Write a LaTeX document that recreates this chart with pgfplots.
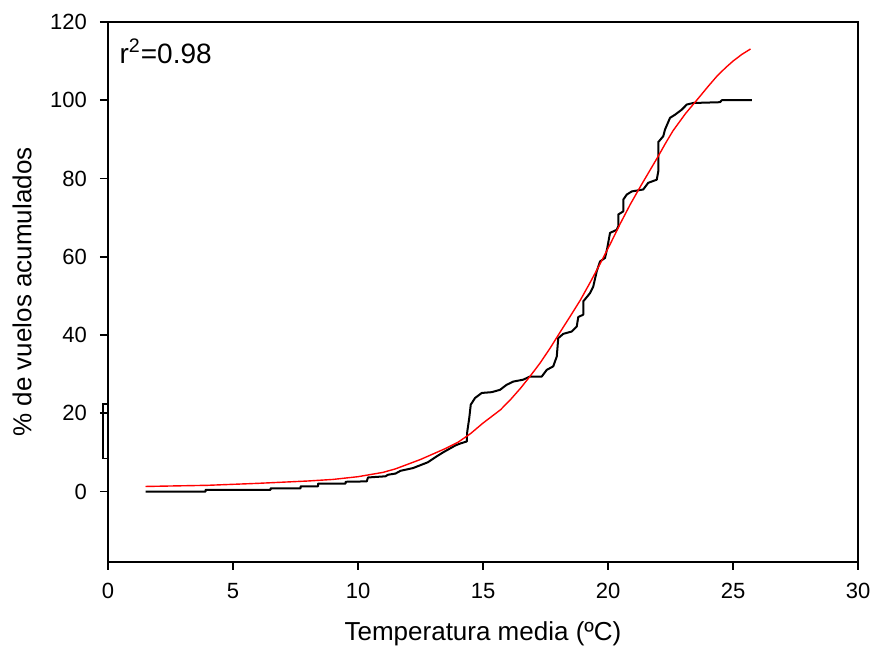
\documentclass[border=0pt]{standalone}
\usepackage{fontspec}
\setmainfont{Liberation Sans}
\usepackage{pgfplots}
\pgfplotsset{compat=1.18}
\begin{document}
\begin{tikzpicture}
\begin{axis}[
  name=ax,
  scale only axis,
  width=375pt, height=270pt,
  xmin=0, xmax=30, ymin=-18, ymax=120,
  xtick={0,5,...,30}, ytick={0,20,...,120},
  tick pos=left, tick align=outside,
  major tick length=4pt,
  axis line style={line width=0.8pt},
  every tick/.style={black, line width=0.8pt},
  /pgf/number format/assume math mode=true,
  tick label style={font=\fontsize{11}{13}\selectfont},
  xticklabel shift=3pt, yticklabel shift=3pt,
  label style={font=\fontsize{13}{15}\selectfont},
  xlabel={Temperatura media (ºC)},
  ylabel={\% de vuelos acumulados},
  xlabel style={at={(axis description cs:0.5,-0.1333)}, anchor=center},
  ylabel style={at={(axis description cs:-0.1147,0.5)}, anchor=center},
  clip=false,
]
% small rectangle at x=0
\addplot[black, line width=0.7pt] coordinates {(-0.2,8.4) (0,8.4) (0,22.4) (-0.2,22.4) (-0.2,8.4)};
% observed cumulative
\addplot[black, line width=1pt, line join=round] coordinates {
(1.5,0) (3.9,0) (3.9,0.4) (6.5,0.4) (6.5,0.8) (7.7,0.8) (7.7,1.3) (8.4,1.3) (8.4,2.0)
(9.5,2.0) (9.5,2.5) (10.35,2.6) (10.4,3.6) (11.1,3.9) (11.2,4.3) (11.5,4.6) (11.7,5.3)
(12.2,6.0) (12.6,7.0) (12.8,7.5) (13.1,8.8) (13.4,10.0) (13.9,11.8) (14.1,12.3) (14.35,12.8)
(14.37,15.3) (14.45,18.8) (14.51,22.2) (14.68,23.9) (14.95,25.2) (15.35,25.4) (15.68,26.0)
(15.95,27.3) (16.21,28.1) (16.61,28.6) (16.88,29.4) (17.35,29.4) (17.55,31.1) (17.81,32.0)
(17.95,34.5) (18.01,39.2) (18.21,40.3) (18.55,40.9) (18.75,42.2) (18.81,44.6) (19.01,45.2)
(19.01,48.6) (19.28,50.7) (19.41,52.4) (19.55,56.3) (19.68,58.8) (19.88,59.7) (19.97,62.2)
(20.08,66.1) (20.35,66.9) (20.41,67.8) (20.41,70.8) (20.61,71.6) (20.61,74.6) (20.75,75.9)
(20.95,76.7) (21.41,77.2) (21.61,78.9) (21.95,79.7) (22.01,81.8) (22.01,89.3) (22.21,90.8)
(22.28,92.5) (22.48,95.5) (22.68,96.3) (22.95,97.6) (23.15,98.9) (23.41,99.3) (24.48,99.5)
(24.55,100) (25.75,100)
};
% fitted curve
\addplot[red, line width=0.7pt] coordinates {
(1.5,1.3) (4,1.6) (6,2.1) (8,2.7) (9,3.1) (10,3.8) (11,4.9) (11.5,5.8) (12,7.0) (12.5,8.2) (13,9.6) (13.5,11.0) (14,12.6)
(14.5,14.8) (15,17.5) (15.7,20.9) (16.1,23.5) (16.5,26.4) (16.9,29.6) (17.3,33) (17.7,36.8) (18.1,40.9) (18.5,44.9) (18.9,49) (19.3,53.6) (19.7,58.4) (20.1,63.4) (20.5,68.6)
(20.9,73.5) (21.3,78) (21.65,81.8) (22,85.6) (22.3,89.0) (22.6,92.2) (23.1,96.6) (23.6,100.4) (24.0,103.5) (24.35,106.1) (24.7,108.3) (25,110) (25.35,111.7) (25.7,113.1)
};
\node[anchor=west, font=\fontsize{14}{16}\selectfont, inner sep=0pt] at (axis cs:0.45,112.5) {r\textsuperscript{2}=0.98};
\end{axis}
\pgfresetboundingbox
\path[use as bounding box] ([xshift=-54pt,yshift=-44pt]ax.south west) rectangle ([xshift=6.5pt,yshift=11pt]ax.north east);
\end{tikzpicture}
\end{document}
